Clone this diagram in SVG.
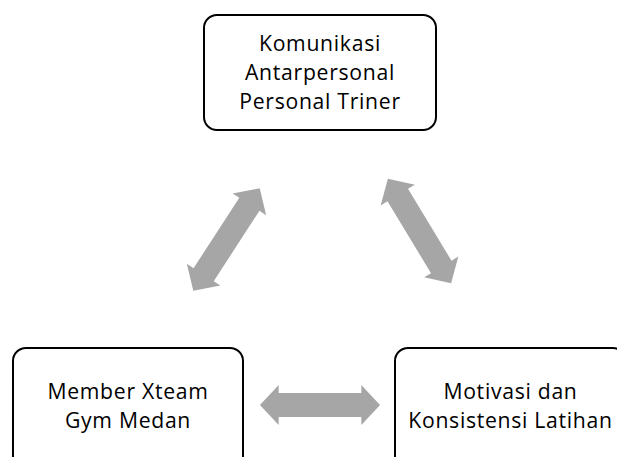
<svg xmlns="http://www.w3.org/2000/svg" width="617" height="457" viewBox="0 0 617 457">
<style>
.box{fill:#fff;stroke:#000;stroke-width:2}
.lbl{font-family:"Open Sans","Liberation Sans",Arial,sans-serif;font-size:21.2px;letter-spacing:0.7px;fill:#000;text-anchor:middle}
.arr{fill:#a6a6a6}
</style>
<defs>
<polygon id="dbl" points="-61,0 -42,-20 -42,-12 42,-12 42,-20 61,0 42,20 42,12 -42,12 -42,20"/>
</defs>
<rect width="617" height="457" fill="#fff"/>
<g id="connectors">
<use href="#dbl" class="arr" transform="translate(226.5,239.5) rotate(-57)"/>
<use href="#dbl" class="arr" transform="translate(419.5,231) rotate(58.8)"/>
<use href="#dbl" class="arr" transform="translate(320,405) scale(0.984,1)"/>
</g>
<g id="node-komunikasi">
<rect class="box" x="204" y="15" width="232" height="115" rx="13"/>
<text class="lbl" x="320" y="51">Komunikasi</text>
<text class="lbl" x="320" y="80">Antarpersonal</text>
<text class="lbl" x="320" y="109">Personal Triner</text>
</g>
<g id="node-member">
<rect class="box" x="13" y="348" width="230" height="130" rx="13"/>
<text class="lbl" x="128" y="399">Member Xteam</text>
<text class="lbl" x="128" y="428">Gym Medan</text>
</g>
<g id="node-motivasi">
<rect class="box" x="395" y="348" width="231" height="130" rx="13"/>
<text class="lbl" x="510.5" y="399">Motivasi dan</text>
<text class="lbl" x="510.5" y="428">Konsistensi Latihan</text>
</g>
</svg>
